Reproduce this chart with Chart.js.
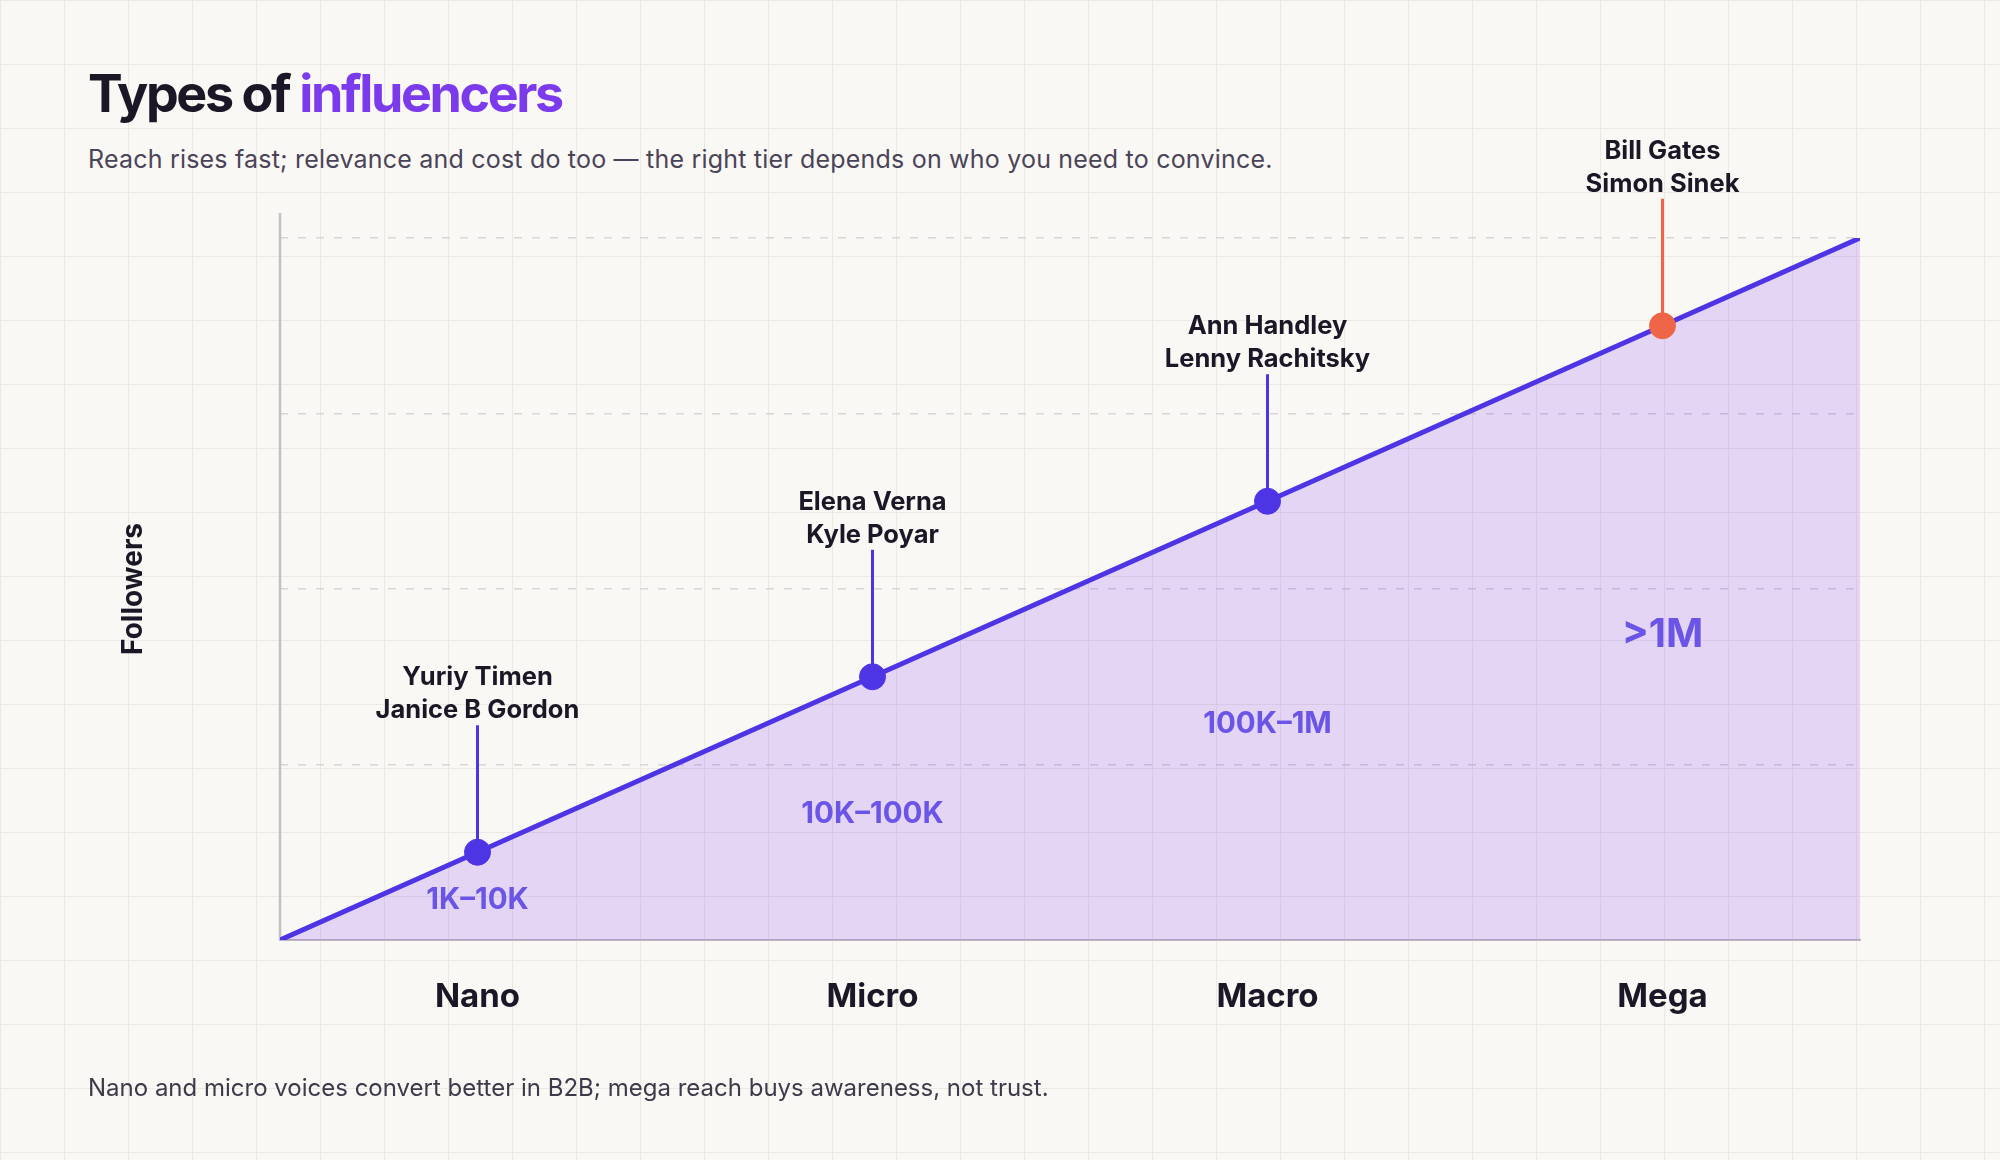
<!DOCTYPE html>
<html>
<head>
<meta charset="utf-8">
<script src="https://cdn.jsdelivr.net/npm/chart.js@4.4.1/dist/chart.umd.min.js"></script>
<style>
html,body{margin:0;padding:0;}
body{
width:2000px;height:1160px;overflow:hidden;position:relative;
background-color:#faf8f4;
background-image:linear-gradient(to right,#ece8e3 1px,transparent 1px),linear-gradient(to bottom,#ece8e3 1px,transparent 1px);
background-size:64px 64px;
font-family:Inter,"Noto Sans",sans-serif;
}
#title{position:absolute;left:88px;top:68px;font-size:52px;line-height:52px;font-weight:700;color:#1b1726;letter-spacing:-2.4px;white-space:nowrap;}
#title span{color:#7c3aed;}
#sub{position:absolute;left:88px;top:147px;font-size:25px;line-height:25px;color:#4a4458;letter-spacing:0.2px;white-space:nowrap;}
#foot{position:absolute;left:88px;top:1076px;font-size:24px;line-height:24px;color:#3e3a4a;white-space:nowrap;}
#chart{position:absolute;left:0;top:0;}
</style>
</head>
<body>
<div id="title">Types of <span>influencers</span></div>
<div id="sub">Reach rises fast; relevance and cost do too — the right tier depends on who you need to convince.</div>
<canvas id="chart" width="2000" height="1160"></canvas>
<div id="foot">Nano and micro voices convert better in B2B; mega reach buys awareness, not trust.</div>
<script>
// tiers along the x axis (centre of each band)
const tiers=['Nano','Micro','Macro','Mega'];
const tierX=[0.5,1.5,2.5,3.5];
const tierReach=[0.5,1.5,2.5,3.5];

// the rising reach line, edge to edge
const lineX=[0,0.5,1.5,2.5,3.5,4];
const lineY=[0,0.5,1.5,2.5,3.5,4];

// follower ranges, written inside the area
const ranges=['1K–10K','10K–100K','100K–1M','>1M'];
const rangeY=[0.24,0.73,1.24,1.75];

// example people per tier
const people=[
['Yuriy Timen','Janice B Gordon'],
['Elena Verna','Kyle Poyar'],
['Ann Handley','Lenny Rachitsky'],
['Bill Gates','Simon Sinek']
];

const INK='#1b1726';
const LINE='#4d35e6';
const HOT='#ef6548';
const dotColors=tiers.map((t,i)=>i===tiers.length-1?HOT:LINE);
const FONT='Inter, "Noto Sans", sans-serif';

const notes={
id:'notes',
beforeDatasetsDraw(chart){
const ctx=chart.ctx;
const a=chart.chartArea;
const xs=chart.scales.x, ys=chart.scales.y;
ctx.save();
// y axis rule, runs a little past the top
ctx.strokeStyle='#c5bfc3';
ctx.lineWidth=2.5;
ctx.beginPath();
ctx.moveTo(a.left,a.top-25);
ctx.lineTo(a.left,a.bottom);
ctx.stroke();
// leader lines
ctx.lineWidth=3;
tierX.forEach((v,i)=>{
const px=xs.getPixelForValue(v);
const py=ys.getPixelForValue(tierReach[i]);
ctx.strokeStyle=dotColors[i];
ctx.beginPath();
ctx.moveTo(px,py);
ctx.lineTo(px,py-127);
ctx.stroke();
});
ctx.restore();
},
afterDatasetsDraw(chart){
const ctx=chart.ctx;
const xs=chart.scales.x, ys=chart.scales.y;
ctx.save();
ctx.textAlign='center';
ctx.textBaseline='alphabetic';
tierX.forEach((v,i)=>{
const px=xs.getPixelForValue(v);
const top=ys.getPixelForValue(tierReach[i])-127;
ctx.fillStyle=INK;
ctx.font='700 25.5px '+FONT;
ctx.fillText(people[i][0],px,top-40);
ctx.fillText(people[i][1],px,top-7);
const big=i===ranges.length-1;
const fs=big?40:29.5;
ctx.font='700 '+fs+'px '+FONT;
ctx.fillStyle='#6a55e6';
ctx.fillText(ranges[i],px,ys.getPixelForValue(rangeY[i])+fs*0.36);
});
ctx.restore();
}
};

new Chart(document.getElementById('chart'),{
type:'scatter',
data:{
datasets:[
{
type:'line',
data:lineX.map((x,i)=>({x:x,y:lineY[i]})),
borderColor:LINE,
borderWidth:5,
borderCapStyle:'round',
backgroundColor:'rgba(124,58,237,0.18)',
fill:'origin',
pointRadius:0,
tension:0,
order:2
},
{
data:tierX.map((x,i)=>({x:x,y:tierReach[i]})),
pointRadius:13,
pointHoverRadius:13,
pointBackgroundColor:dotColors,
pointBorderColor:dotColors,
pointBorderWidth:1,
order:1
}
]
},
options:{
responsive:false,
animation:false,
events:[],
layout:{padding:{left:117,top:238,right:140,bottom:0}},
plugins:{legend:{display:false},tooltip:{enabled:false}},
scales:{
x:{
type:'linear',
min:0,max:4,
grid:{display:false,drawTicks:false},
border:{display:true,color:'#bdb5c0',width:2},
afterBuildTicks:s=>{s.ticks=tierX.map(v=>({value:v}));},
afterFit:s=>{s.height=220;},
ticks:{
padding:37,
color:INK,
font:{family:FONT,size:33,weight:'700'},
callback:(v,i)=>tiers[i]
}
},
y:{
min:0,max:4,
grid:{color:'#d9d4d8',lineWidth:1.5,drawTicks:false},
border:{display:false,dash:[8,10]},
ticks:{display:false,stepSize:1},
afterFit:s=>{s.width=163;},
title:{
display:true,
text:'Followers',
color:INK,
padding:0,
font:{family:FONT,size:28,weight:'700'}
}
}
}
},
plugins:[notes]
});
</script>
</body>
</html>
